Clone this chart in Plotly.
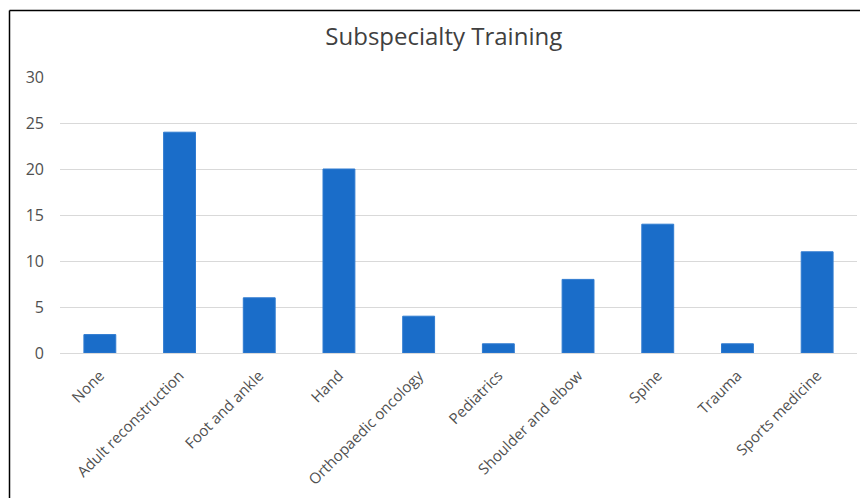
import plotly.graph_objects as go

categories = [
    "None", "Adult reconstruction", "Foot and ankle", "Hand",
    "Orthopaedic oncology", "Pediatrics", "Shoulder and elbow",
    "Spine", "Trauma", "Sports medicine",
]
counts = [2, 24, 6, 20, 4, 1, 8, 14, 1, 11]
y_ticks = [0, 5, 10, 15, 20, 25, 30]

W, H = 860, 498
L, R, T, B = 60, 3, 77, 145

fig = go.Figure(
    go.Bar(
        x=categories,
        y=counts,
        marker=dict(color="#1a6dc9", line=dict(color="#2f7bd0", width=1)),
    )
)

# thin frame along top and left edges of the figure
px_x = lambda p: (p - L) / (W - L - R)
px_y = lambda p: 1 - (p - T) / (H - T - B)
fig.add_shape(type="line", xref="paper", yref="paper",
              x0=px_x(9.5), x1=px_x(870), y0=px_y(10.5), y1=px_y(10.5),
              line=dict(color="#000000", width=1.5))
fig.add_shape(type="line", xref="paper", yref="paper",
              x0=px_x(9.5), x1=px_x(9.5), y0=px_y(10.5), y1=px_y(520),
              line=dict(color="#000000", width=1.5))

fig.update_layout(
    width=W, height=H,
    margin=dict(l=L, r=R, t=T, b=B, autoexpand=False),
    paper_bgcolor="white",
    plot_bgcolor="white",
    bargap=0.6,
    showlegend=False,
    font=dict(family="Open Sans", color="#505050", size=15),
    title=dict(
        text="Subspecialty Training",
        x=0.516, xref="container", xanchor="center",
        y=1 - 37 / H, yref="container", yanchor="middle",
        font=dict(family="Open Sans", size=24, color="#404040"),
    ),
    xaxis=dict(
        automargin=False,
        tickangle=-45,
        showgrid=False,
        showline=False,
        ticks="",
        ticklabelstandoff=10,
        tickfont=dict(size=15, color="#505050"),
    ),
    yaxis=dict(
        automargin=False,
        range=[0, 30],
        tickvals=y_ticks,
        showgrid=True,
        gridcolor="#d9d9d9",
        gridwidth=1,
        zeroline=True,
        zerolinecolor="#d9d9d9",
        zerolinewidth=1,
        showline=False,
        ticks="",
        ticklabelstandoff=15,
        tickfont=dict(size=16, color="#505050"),
    ),
)

fig.write_html("out.html")
